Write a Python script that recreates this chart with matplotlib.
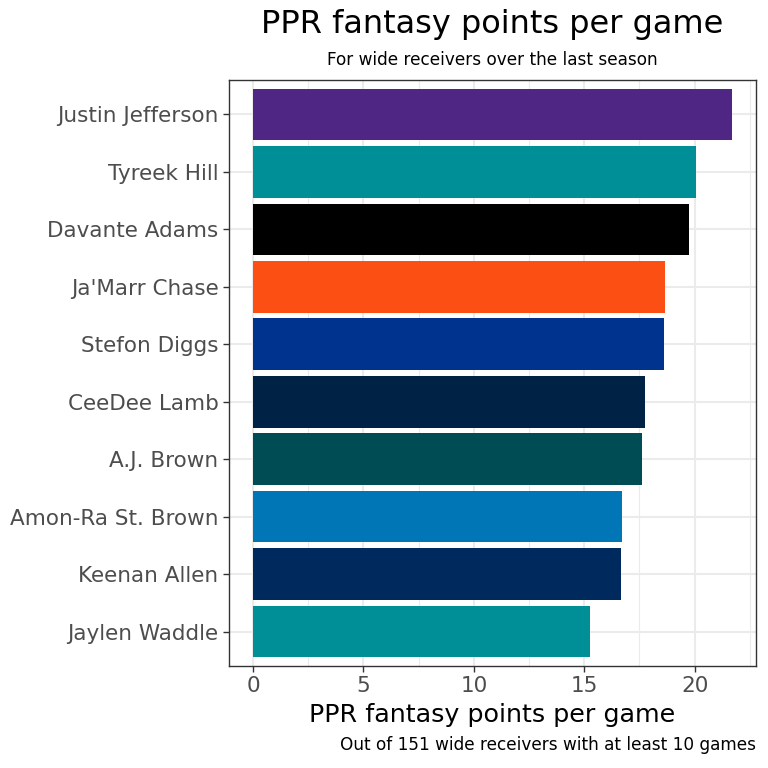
import matplotlib.pyplot as plt
from matplotlib.ticker import MultipleLocator

players = ['Justin Jefferson', 'Tyreek Hill', 'Davante Adams', "Ja'Marr Chase",
           'Stefon Diggs', 'CeeDee Lamb', 'A.J. Brown', 'Amon-Ra St. Brown',
           'Keenan Allen', 'Jaylen Waddle']
ppg = [21.69, 20.07, 19.74, 18.65, 18.62, 17.75, 17.63, 16.72, 16.65, 15.24]
colors = ['#4F2683', '#008E97', '#000000', '#FB4F14', '#00338D',
          '#002244', '#004C54', '#0076B6', '#002A5E', '#008E97']

fig = plt.figure(figsize=(7.68, 7.68), dpi=100)
ax = fig.add_axes([229 / 768, 1 - 666 / 768, (756 - 229) / 768, 586 / 768])

n = len(players)
ypos = list(range(n, 0, -1))
ax.barh(ypos, ppg, height=0.9, color=colors, zorder=3)

xmax = max(ppg)
ax.set_xlim(-0.05 * xmax, 1.05 * xmax)
ax.set_ylim(0.4, n + 0.6)
ax.set_yticks(ypos)
ax.set_yticklabels(players)
ax.xaxis.set_major_locator(MultipleLocator(5))
ax.xaxis.set_minor_locator(MultipleLocator(2.5))

ax.grid(which='major', color='#EBEBEB', linewidth=1.5, zorder=0)
ax.grid(which='minor', axis='x', color='#EBEBEB', linewidth=0.8, zorder=0)
ax.tick_params(axis='both', which='major', colors='#333333', labelcolor='#4D4D4D',
               labelsize=15.5, length=4, width=1)
ax.tick_params(axis='x', which='minor', length=0)
for s in ax.spines.values():
    s.set_color('#333333')
    s.set_linewidth(1)

ax.set_xlabel('PPR fantasy points per game', fontsize=18.3, labelpad=5)

fig.text(0.5 * (229 + 756) / 768, 1 - 25 / 768, 'PPR fantasy points per game',
         ha='center', va='center', fontsize=23)
fig.text(0.5 * (229 + 756) / 768, 1 - 60 / 768, 'For wide receivers over the last season',
         ha='center', va='center', fontsize=12.2)
fig.text(756 / 768, 1 - 745 / 768, 'Out of 151 wide receivers with at least 10 games',
         ha='right', va='center', fontsize=12.2)

fig.savefig('out.png', dpi=100)
